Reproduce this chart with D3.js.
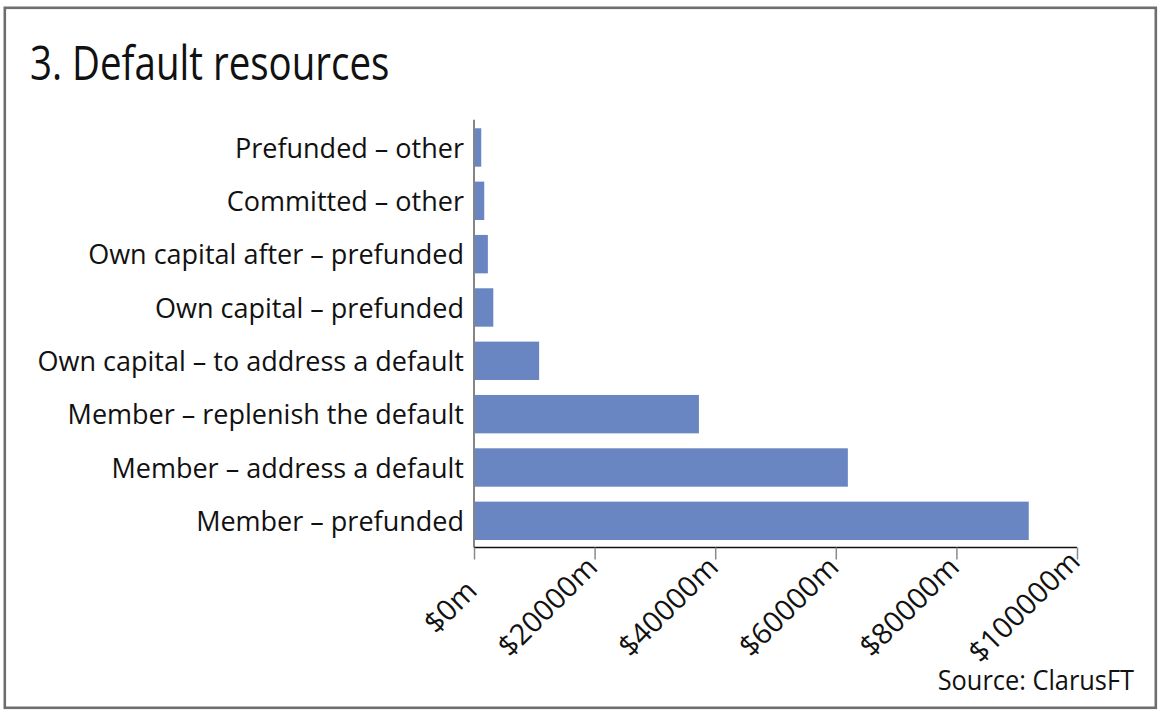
<!DOCTYPE html>
<html>
<head>
<meta charset="utf-8">
<script src="https://cdn.jsdelivr.net/npm/d3@7"></script>
<style>
  html, body { margin: 0; padding: 0; background: #fff; }
  svg { display: block; }
  text { font-family: "Open Sans", sans-serif; }
</style>
</head>
<body>
<svg id="chart" width="1160" height="716"></svg>
<script>
const categories = [
  "Prefunded – other",
  "Committed – other",
  "Own capital after – prefunded",
  "Own capital – prefunded",
  "Own capital – to address a default",
  "Member  – replenish the default",
  "Member – address a default",
  "Member – prefunded"
];
const values = [1200, 1700, 2300, 3200, 10800, 37300, 62000, 92000];
const tickValues = [0, 20000, 40000, 60000, 80000, 100000];
const title = "3. Default resources";
const source = "Source: ClarusFT";

(function () {
const svg = d3.select("#chart");

svg.append("rect")
  .attr("x", 4.8).attr("y", 7.8).attr("width", 1151).attr("height", 700)
  .attr("fill", "#fff").attr("stroke", "#6e6e6e").attr("stroke-width", 2.6);

svg.append("text")
  .attr("transform", "translate(30,80) scale(0.81,1)")
  .attr("font-size", 47.5)
  .attr("fill", "#111")
  .text(title);

const pLeft = 474, pRight = 1077, pTop = 120.8, pBottom = 547.5;

const x = d3.scaleLinear().domain([0, 100000]).range([pLeft, pRight]);
const y = d3.scaleBand().domain(categories).range([pTop, pBottom]).paddingInner(0.28).paddingOuter(0.14);

svg.append("g").selectAll("rect")
  .data(categories)
  .join("rect")
  .attr("x", x(0) + 1)
  .attr("y", d => y(d))
  .attr("width", (d, i) => x(values[i]) - x(0) - 1)
  .attr("height", y.bandwidth())
  .attr("fill", "#6a86c2");

svg.append("g").selectAll("text")
  .data(categories)
  .join("text")
  .attr("transform", d => `translate(${pLeft - 10},${y(d) + y.bandwidth() / 2}) scale(0.965,1)`)
  .attr("dy", "0.36em")
  .attr("text-anchor", "end")
  .attr("font-size", 28)
  .attr("fill", "#111")
  .text(d => d);

svg.append("line")
  .attr("x1", pLeft).attr("x2", pLeft)
  .attr("y1", pTop - 1).attr("y2", pBottom)
  .attr("stroke", "#858585").attr("stroke-width", 2);

const xAxis = d3.axisBottom(x)
  .tickValues(tickValues)
  .tickSize(12)
  .tickFormat(d => "$" + d + "m");

const gx = svg.append("g")
  .attr("transform", `translate(0,${Math.round(pBottom) - 0.5})`)
  .call(xAxis);
gx.select(".domain").attr("stroke", "#111").attr("stroke-width", 1.5).attr("d", `M${pLeft},0H${pRight}`);
gx.selectAll(".tick line").attr("stroke", "#8a8a8a").attr("stroke-width", 1.5);
gx.selectAll(".tick text")
  .attr("font-size", 29)
  .attr("font-family", "Open Sans, sans-serif")
  .attr("fill", "#111")
  .attr("text-anchor", "middle")
  .attr("y", 0)
  .attr("x", 0)
  .attr("dy", "0.35em")
  .attr("transform", function () {
    const L = this.getComputedTextLength();
    const h = L / 2 * Math.SQRT1_2;
    return `translate(${-h - 3},${59}) rotate(-45)`;
  });

svg.append("text")
  .attr("transform", "translate(1134,690) scale(0.94,1)")
  .attr("text-anchor", "end")
  .attr("font-size", 27)
  .attr("fill", "#111")
  .text(source);
})();
</script>
</body>
</html>
